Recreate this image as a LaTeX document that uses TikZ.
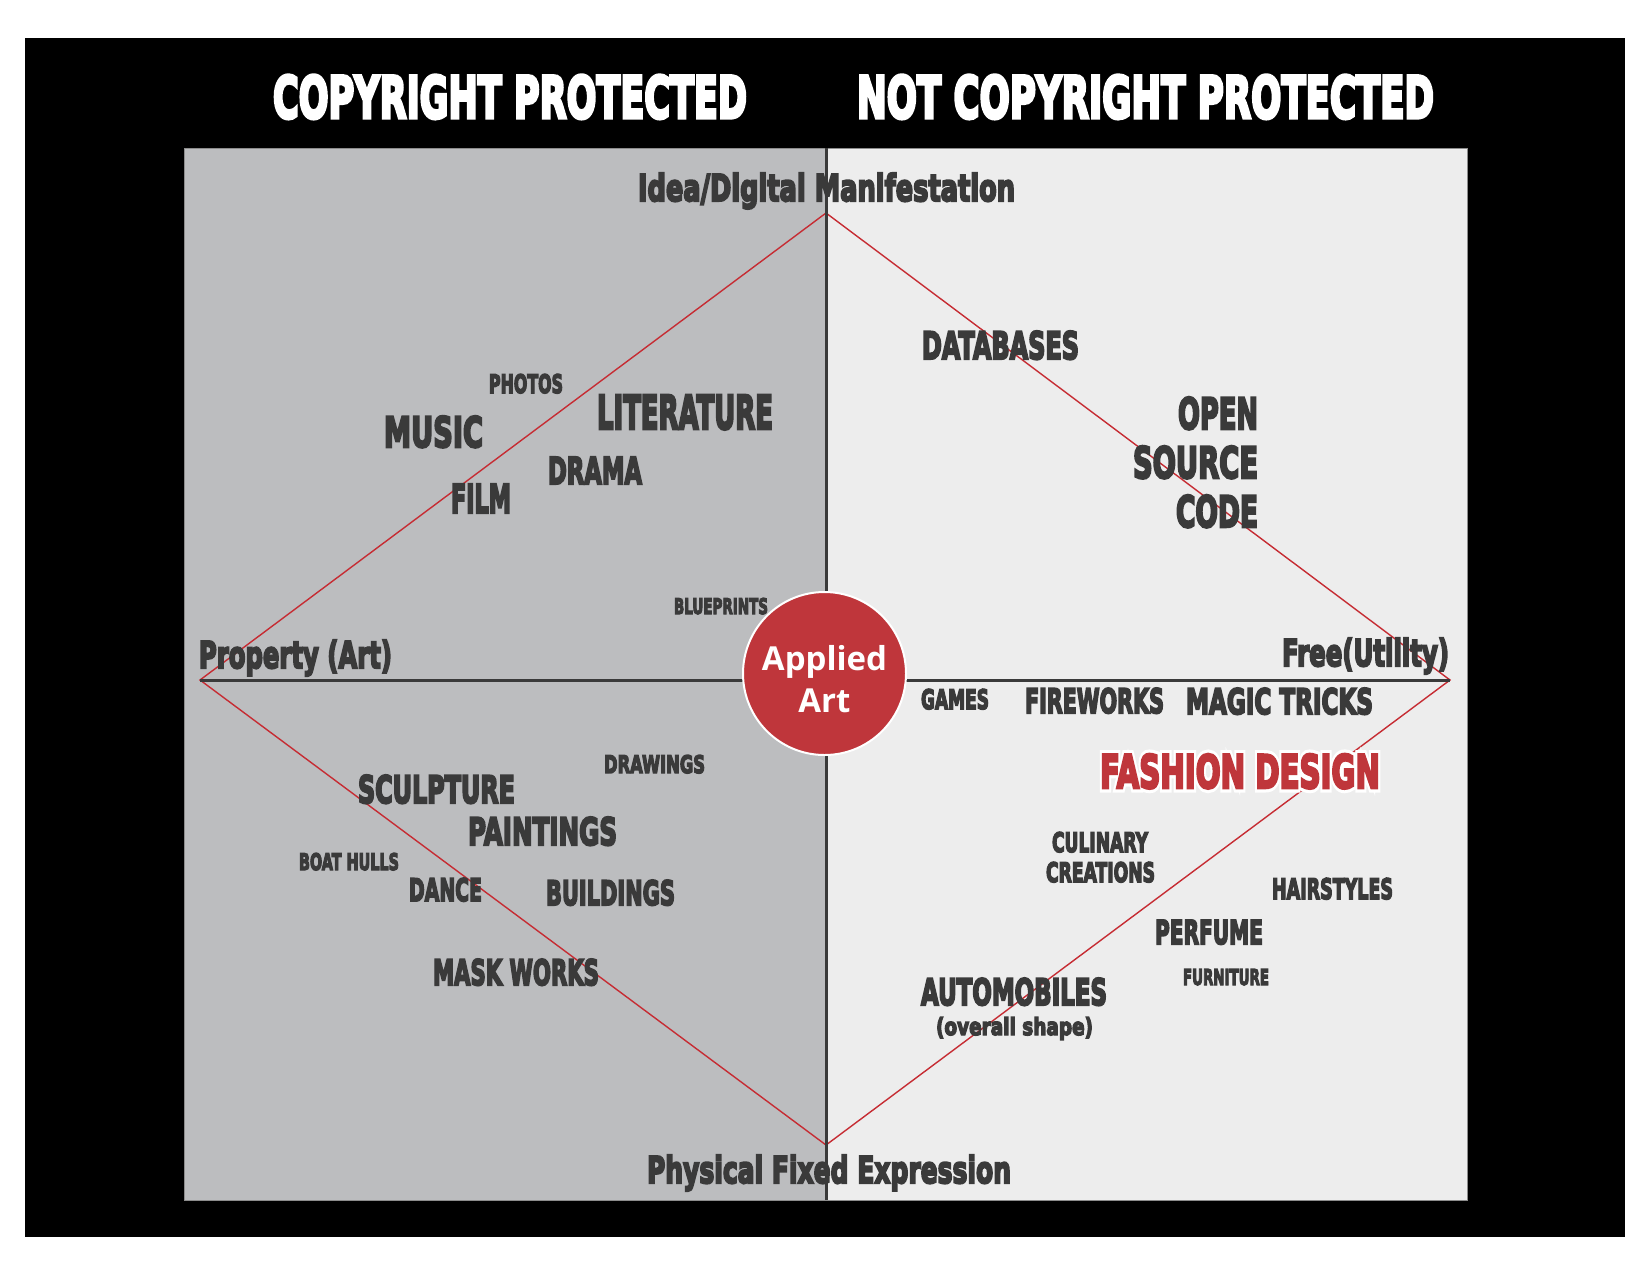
\documentclass[tikz,border=0pt]{standalone}
\usepackage{fontspec}
\usepackage{graphicx}
\newfontfamily\imp{DejaVu Sans}[BoldFeatures={FakeBold=6}]
\newfontfamily\imphalo{DejaVu Sans}[BoldFeatures={FakeBold=20}]
\newfontfamily\aafont{Open Sans}
\definecolor{ink}{HTML}{3A3A3A}
\definecolor{lgray}{HTML}{BCBDBF}
\definecolor{rgray}{HTML}{EDEDED}
\definecolor{edge}{HTML}{8C8C8C}
\definecolor{rline}{HTML}{C62C33}
\definecolor{aared}{HTML}{BF363B}
\newcommand\fb[3]{\resizebox{#1pt}{#2pt}{#3}}
\begin{document}
\begin{tikzpicture}[x=1pt,y=-1pt,
  lbl/.style={font=\imp\bfseries\fontsize{20}{24}\selectfont, text=ink,
    inner sep=0pt, outer sep=0pt, anchor=base west},
  lble/.style={lbl, anchor=base east},
  ttl/.style={lbl, text=white},
  halolbl/.style={lbl, text=white, font=\imphalo\bfseries\fontsize{20}{24}\selectfont},
  redline/.style={draw=rline, line width=1.4pt, line join=miter},
  axis/.style={draw=ink, line width=3pt},
  vaxis/.style={draw=ink, line width=3pt},
  appl/.style={circle, fill=aared, draw=white, line width=2pt,
    minimum size=163pt, inner sep=0pt},
  appltxt/.style={text=white, align=center, inner sep=0pt,
    font=\aafont\bfseries\fontsize{33}{42}\selectfont}]
% canvas
\path[use as bounding box, fill=white] (0,0) rectangle (1651,1275);
\fill[black] (25,38) rectangle (1625,1237);
\fill[lgray] (184,148) rectangle (826,1200);
\fill[rgray] (826,148) rectangle (1467,1200);
\draw[edge, line width=1pt] (184,148) rectangle (1467,1200);
% key points
\coordinate (top) at (826,213);
\coordinate (right) at (1450,680);
\coordinate (bot) at (826,1145);
\coordinate (left) at (200,680);
\coordinate (ptop) at (826,148);
\coordinate (pbot) at (826,1200);
% diamond and horizontal axis
\draw[redline] (top) -- (right) -- (bot) -- (left) -- cycle;
\draw[axis] (left) -- (right);
% titles
\node[ttl] (t1) at (273,118) {\fb{474}{43}{COPYRIGHT PROTECTED}};
\node[ttl] (t2) at (857,118) {\fb{577}{43}{NOT COPYRIGHT PROTECTED}};
% axis labels
\node[lbl] (idea) at (638,201) {\fb{377}{28}{Idea/Digital Manifestation}};
\node[lbl] (phys) at (647,1183) {\fb{364}{28}{Physical Fixed Expression}};
\node[lbl] (prop) at (199,668) {\fb{193}{28}{Property (Art)}};
\node[lbl] (free) at (1282,666) {\fb{167}{28}{Free(Utility)}};
% upper left
\node[lbl] (photos) at (489,393) {\fb{74}{19}{PHOTOS}};
\node[lbl] (music) at (384,447) {\fb{99}{31}{MUSIC}};
\node[lbl] (lit) at (597,429) {\fb{176}{34}{LITERATURE}};
\node[lbl] (drama) at (548,484) {\fb{94}{27}{DRAMA}};
\node[lbl] (film) at (451,513) {\fb{60}{29}{FILM}};
\node[lbl] (blue) at (674,614) {\fb{94}{16}{BLUEPRINTS}};
% upper right
\node[lbl] (db) at (922,359) {\fb{157}{28}{DATABASES}};
\node[lble] (open) at (1258,429) {\fb{80}{32}{OPEN}};
\node[lble] (source) at (1258,478) {\fb{125}{32}{SOURCE}};
\node[lble] (code) at (1258,527) {\fb{82}{32}{CODE}};
% lower right
\node[lbl] (games) at (921,709) {\fb{68}{20}{GAMES}};
\node[lbl] (fire) at (1025,713) {\fb{139}{25}{FIREWORKS}};
\node[lbl] (magic) at (1186,714) {\fb{187}{26}{MAGIC TRICKS}};
\node[halolbl] (fashionhalo) at (1100,788) {\fb{280}{34}{FASHION DESIGN}};
\node[lbl, text=aared] (fashion) at (1100,788) {\fb{280}{34}{FASHION DESIGN}};
\node[lbl] (culi) at (1052,852) {\fb{96}{20}{CULINARY}};
\node[lbl] (crea) at (1046,882) {\fb{109}{20}{CREATIONS}};
\node[lbl] (hair) at (1272,899) {\fb{121}{21}{HAIRSTYLES}};
\node[lbl] (perf) at (1155,944) {\fb{108}{24}{PERFUME}};
\node[lbl] (furn) at (1183,985) {\fb{86}{16}{FURNITURE}};
\node[lbl] (auto) at (921,1005) {\fb{186}{27}{AUTOMOBILES}};
\node[lbl] (shape) at (936,1035) {\fb{157}{18}{(overall shape)}};
% lower left
\node[lbl] (draw) at (604,773) {\fb{101}{18}{DRAWINGS}};
\node[lbl] (sculp) at (358,803) {\fb{157}{28}{SCULPTURE}};
\node[lbl] (paint) at (468,845) {\fb{149}{28}{PAINTINGS}};
\node[lbl] (boat) at (299,870) {\fb{100}{17}{BOAT HULLS}};
\node[lbl] (dance) at (409,901) {\fb{73}{23}{DANCE}};
\node[lbl] (build) at (546,905) {\fb{129}{25}{BUILDINGS}};
\node[lbl] (mask) at (433,985) {\fb{166}{26}{MASK WORKS}};
% vertical axis over text
\draw[vaxis] (ptop) -- (pbot);
% centre circle
\node[appl] (applied) at (824.5,673.5) {};
\node[appltxt, yshift=-6pt] (appliedtxt) at (applied) {Applied\\Art};
\end{tikzpicture}
\end{document}
